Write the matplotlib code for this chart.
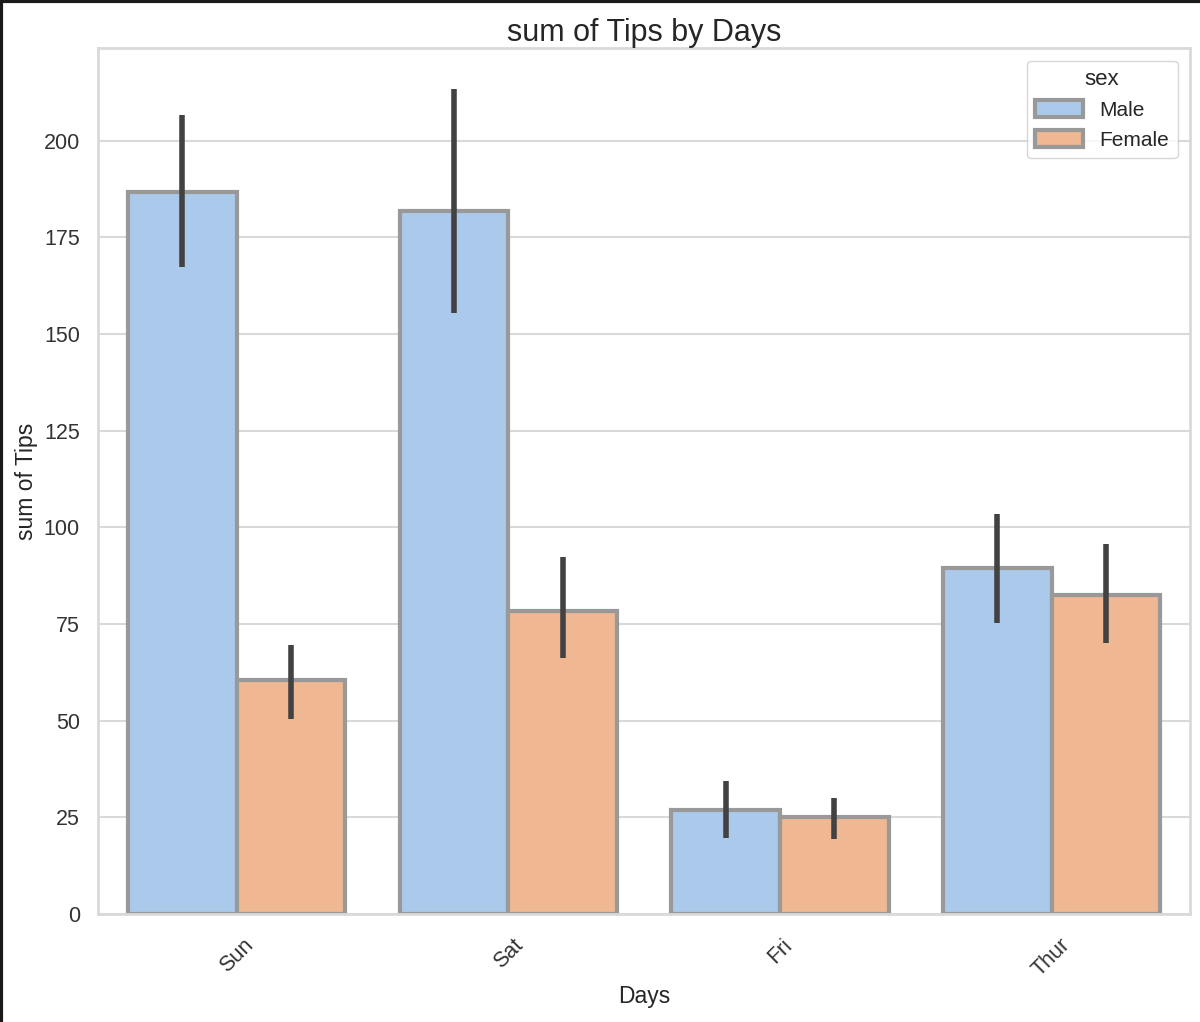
import matplotlib
matplotlib.use("Agg")
import matplotlib.pyplot as plt
from matplotlib.lines import Line2D
import numpy as np
import seaborn as sns

# データ
days = ["Sun", "Sat", "Fri", "Thur"]
sexes = ["Male", "Female"]
male_sum = [186.8, 181.9, 26.9, 89.4]
female_sum = [60.6, 78.5, 25.0, 82.4]
male_ci_low = [167.4, 155.5, 19.7, 75.3]
male_ci_high = [206.7, 213.4, 34.4, 103.5]
female_ci_low = [50.4, 66.2, 19.4, 70.1]
female_ci_high = [69.6, 92.3, 30.0, 95.7]

sns.set_theme(style="whitegrid")
plt.rcParams["font.family"] = ["Liberation Sans", "DejaVu Sans"]

pal = sns.color_palette("pastel")
colors = [sns.desaturate(pal[0], 0.75), sns.desaturate(pal[1], 0.75)]

fig = plt.figure(figsize=(12, 10.22), dpi=100)
ax = fig.add_axes([0.0817, 0.1057, 0.91, 0.8473])

x = np.arange(len(days))
w = 0.4
series = [
    (male_sum, male_ci_low, male_ci_high),
    (female_sum, female_ci_low, female_ci_high),
]
for i, (vals, lo, hi) in enumerate(series):
    pos = x - w / 2 + i * w
    ax.bar(pos, vals, width=w, color=colors[i], edgecolor="0.6",
           linewidth=3, label=sexes[i], zorder=2)
    for p, a, b in zip(pos, lo, hi):
        ax.plot([p, p], [a, b], color="0.26", linewidth=4,
                solid_capstyle="butt", zorder=3)

ax.set_xlim(-0.51, 3.51)
ax.set_ylim(0, 224)
ax.set_yticks(range(0, 201, 25))
ax.set_xticks(x)
ax.set_xticklabels(days, rotation=45)
ax.tick_params(labelsize=15.5, colors="0.2")
ax.tick_params(axis="x", pad=9)
ax.tick_params(axis="y", pad=7)
ax.set_xlabel("Days", fontsize=16.5, color="0.15", labelpad=3)
ax.set_ylabel("sum of Tips", fontsize=16.5, color="0.15", labelpad=4)
ax.set_title("sum of Tips by Days", fontsize=22, color="0.15", pad=5)
for s in ax.spines.values():
    s.set_linewidth(2)
    s.set_color("0.85")
ax.grid(axis="x", visible=False)
ax.grid(axis="y", color="0.85", linewidth=1.5)
ax.set_axisbelow(True)

leg = ax.legend(title="sex", loc="upper right", fontsize=15,
                title_fontsize=16, frameon=True, handlelength=2.3,
                handleheight=0.85, borderaxespad=0.6, labelspacing=0.5)

# スクリーンショットの枠線
fig.add_artist(Line2D([0.001, 0.001], [0, 1], color="0.1", linewidth=3,
                      transform=fig.transFigure))
fig.add_artist(Line2D([0, 1], [0.999, 0.999], color="0.1", linewidth=3,
                      transform=fig.transFigure))

plt.savefig("out.png")
